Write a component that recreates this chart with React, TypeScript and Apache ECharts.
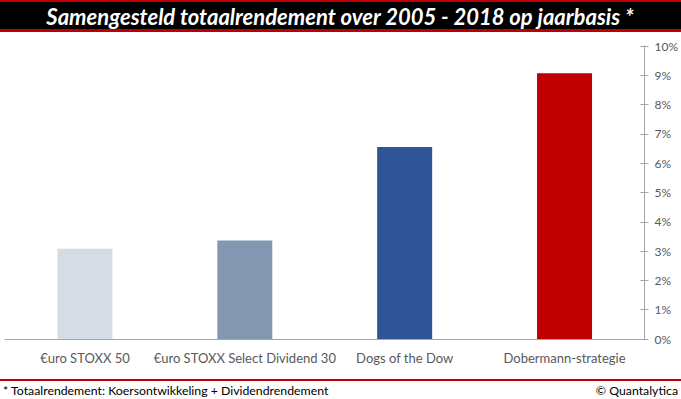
import React, { useEffect, useRef } from "react";
import * as echarts from "echarts";

const categories = [
  "€uro STOXX 50",
  "€uro STOXX Select Dividend 30",
  "Dogs of the Dow",
  "Dobermann-strategie",
];
const values = [3.08, 3.36, 6.55, 9.07];
const barColors = ["#D6DCE5", "#8497B0", "#2F5597", "#C00000"];
const titleText = "Samengesteld totaalrendement over 2005 - 2018 op jaarbasis *";
const footnoteText = "* Totaalrendement: Koersontwikkeling + Dividendrendement";
const creditText = "© Quantalytica";

export default function App() {
  const ref = useRef<HTMLDivElement>(null);
  useEffect(() => {
    if (!ref.current) return;
    const chart = echarts.init(ref.current, undefined, { renderer: "svg" });
    chart.setOption({
      animation: false,
      backgroundColor: "#ffffff",
      grid: { left: 5, right: 35.4, top: 46, bottom: 60, containLabel: false },
      xAxis: {
        type: "category",
        data: categories,
        axisLine: { show: true, lineStyle: { color: "#A6A6A6", width: 1 } },
        axisTick: { show: false },
        axisLabel: {
          color: "#595959",
          fontFamily: "Lato",
          fontSize: 13,
          margin: 12,
          interval: 0,
        },
      },
      yAxis: [
        {
          type: "value",
          position: "right",
          min: 0,
          max: 10,
          interval: 1,
          splitLine: { show: false },
          axisLine: { show: true, lineStyle: { color: "#A6A6A6", width: 1 } },
          axisTick: { show: true, length: 4, lineStyle: { color: "#A6A6A6" } },
          axisLabel: {
            formatter: "{value}%",
            color: "#595959",
            fontFamily: "Lato",
            fontSize: 12,
            margin: 10,
          },
        },
        {
          type: "value",
          position: "right",
          min: 0,
          max: 10,
          interval: 1,
          splitLine: { show: false },
          axisLine: { show: false },
          axisTick: { show: true, inside: true, length: 4, lineStyle: { color: "#A6A6A6" } },
          axisLabel: { show: false },
        },
      ],
      series: [
        {
          type: "bar",
          yAxisIndex: 0,
          barWidth: 55,
          data: values.map((v, i) => ({ value: v, itemStyle: { color: barColors[i] } })),
        },
      ],
      graphic: [
        { type: "rect", left: 0, top: 0, shape: { width: 681, height: 32 }, style: { fill: "#C00000" }, z: 10 },
        { type: "rect", left: 0, top: 2, shape: { width: 681, height: 27 }, style: { fill: "#000000" }, z: 11 },
        {
          type: "text",
          x: 340,
          y: 16,
          z: 12,
          style: {
            text: titleText,
            fill: "#ffffff",
            font: "italic bold 22px Lato",
            textAlign: "center",
            textVerticalAlign: "middle",
          },
        },
        { type: "rect", left: 0, top: 379, shape: { width: 681, height: 2 }, style: { fill: "#C00000" }, z: 10 },
        {
          type: "text",
          x: 3,
          y: 390,
          z: 12,
          style: {
            text: footnoteText,
            fill: "#000000",
            font: "12.3px Lato",
            textAlign: "left",
            textVerticalAlign: "middle",
          },
        },
        {
          type: "text",
          x: 678,
          y: 390,
          z: 12,
          style: {
            text: creditText,
            fill: "#000000",
            font: "12.3px Lato",
            textAlign: "right",
            textVerticalAlign: "middle",
          },
        },
      ],
    });
    return () => chart.dispose();
  }, []);
  return (
    <div
      ref={ref}
      style={{ position: "fixed", left: 0, top: 0, width: 681, height: 399 }}
    />
  );
}
